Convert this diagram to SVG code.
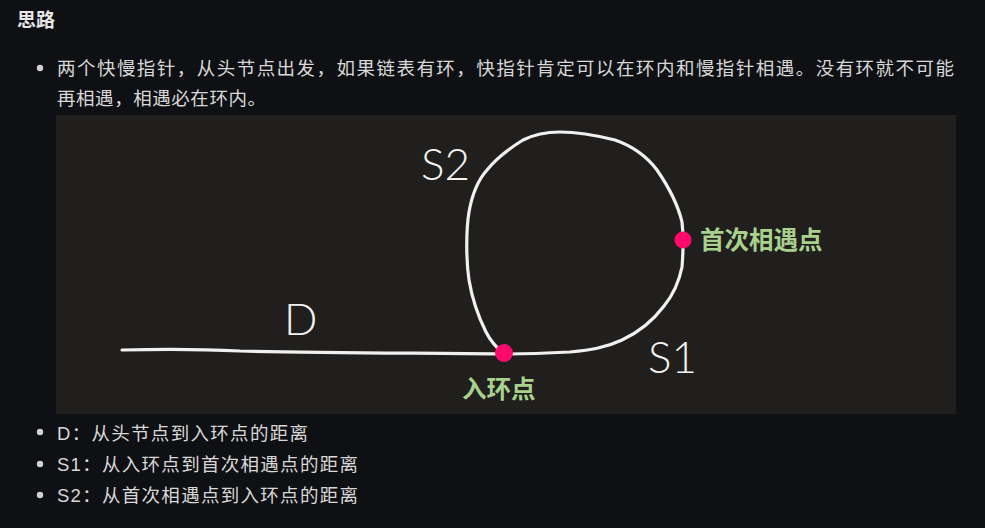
<svg xmlns="http://www.w3.org/2000/svg" width="985" height="528" viewBox="0 0 985 528">
<style>
.t{font-family:"Liberation Sans","Noto Sans CJK SC",sans-serif;fill:#d8d8d8;font-size:18.5px;letter-spacing:1px}
.h{font-family:"Noto Sans CJK SC",sans-serif;fill:#e6e6e6;font-size:19px;font-weight:bold}
.b{fill:#d0d0d0}
.hand{font-family:"Lato","Open Sans",sans-serif;font-weight:300;fill:#f2f2f2;font-size:44px}
.g{font-family:"Noto Sans CJK SC",sans-serif;font-weight:bold;fill:#a9d18e;font-size:24.5px}
.dot{fill:#fd0a6c}
.ln{fill:none;stroke:#f0f0f0;stroke-width:3.2;stroke-linecap:round;stroke-linejoin:round}
</style>
<rect width="985" height="528" fill="#0f1013"/>
<text class="h" x="17" y="27">思路</text>
<circle class="b" cx="40" cy="68" r="3.2"/>
<text class="t" x="57" y="75" textLength="898">两个快慢指针，从头节点出发，如果链表有环，快指针肯定可以在环内和慢指针相遇。没有环就不可能</text>
<text class="t" x="57" y="105" textLength="210">再相遇，相遇必在环内。</text>
<rect x="56" y="115" width="900" height="299" fill="#201f1d"/>
<g id="connectors">
<path class="ln" d="M122,350 C160,349 200,349 240,351 C320,353 420,353 503,354"/>
<path class="ln" d="M504,354 C498,349 490,340 486,332 C479,318 472,298 469,280 C466,260 466,230 469,212 C472,195 478,180 487,170 C495,160 510,148 523,140 C535,134 545,132 560,132 C575,132 595,135 615,140 C635,147 648,158 657,170 C668,186 678,205 682,222 C684,240 683,255 682,267 C679,282 673,295 664,306 C652,322 637,333 622,340 C605,348 590,350 570,352 C550,353 530,354 504,354"/>
</g>
<g id="labels">
<text class="hand" x="421" y="180">S2</text>
<text class="hand" x="284" y="335" font-size="42">D</text>
<text class="hand" x="648" y="373">S1</text>
</g>
<g id="entry">
<circle class="dot" cx="504" cy="353" r="9"/>
<text class="g" x="462" y="398">入环点</text>
</g>
<g id="meet">
<circle class="dot" cx="683" cy="240" r="8.5"/>
<text class="g" x="700" y="249">首次相遇点</text>
</g>
<circle class="b" cx="40" cy="432" r="3.2"/>
<text class="t" x="57" y="440" textLength="252">D：从头节点到入环点的距离</text>
<circle class="b" cx="40" cy="464" r="3.2"/>
<text class="t" x="57" y="471" textLength="302">S1：从入环点到首次相遇点的距离</text>
<circle class="b" cx="40" cy="495" r="3.2"/>
<text class="t" x="57" y="502" textLength="302">S2：从首次相遇点到入环点的距离</text>
</svg>
